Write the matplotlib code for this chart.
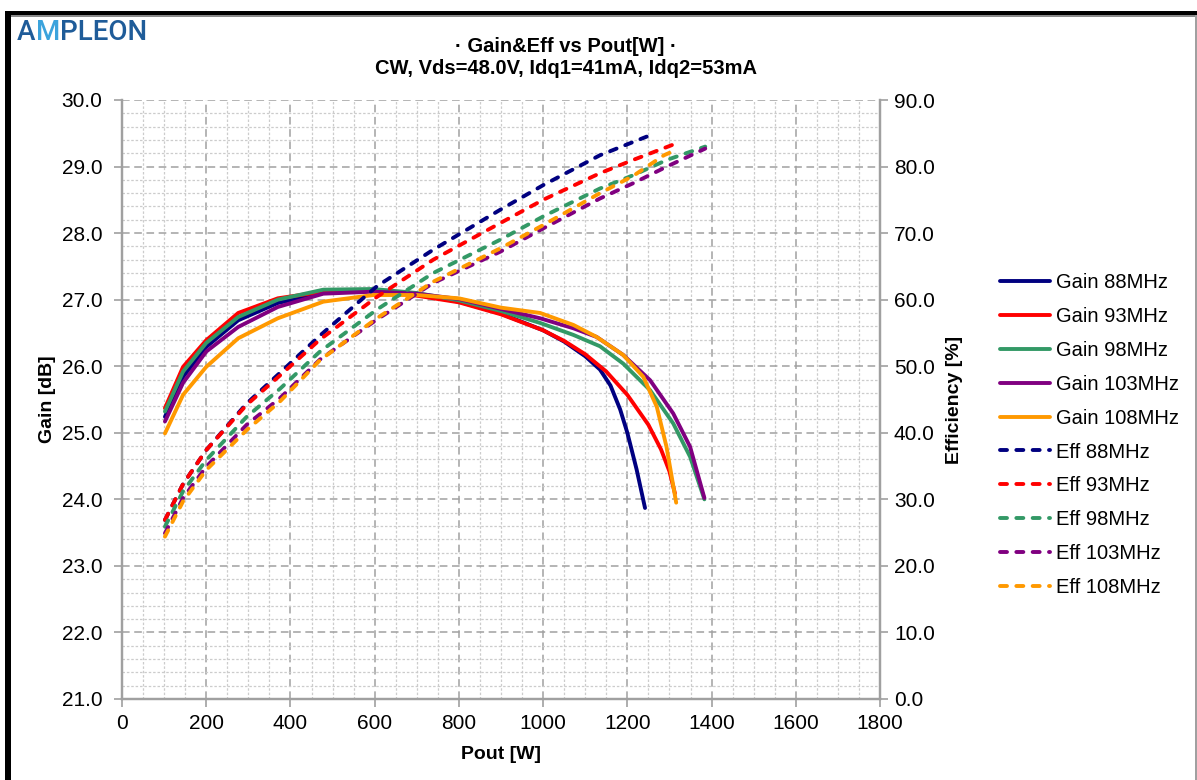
import matplotlib
matplotlib.use("Agg")
import matplotlib.pyplot as plt
from matplotlib.patches import Rectangle
from matplotlib.ticker import MultipleLocator, FormatStrFormatter

plt.rcParams['font.family'] = ['Liberation Sans', 'DejaVu Sans']

# ---------------- data ----------------
freqs = [88, 93, 98, 103, 108]
colors = ['#000080', '#FF0000', '#339966', '#800080', '#FF9900']

gain_pout_88 = [102, 145, 200, 276, 370, 478, 597, 700, 800, 900, 1000, 1050, 1100, 1135, 1160, 1183, 1200, 1222, 1242]
gain_88 = [25.24, 25.84, 26.29, 26.69, 26.95, 27.10, 27.14, 27.08, 26.97, 26.79, 26.54, 26.37, 26.15, 25.95, 25.71, 25.35, 25.00, 24.45, 23.87]

gain_pout_93 = [102, 145, 200, 276, 370, 478, 597, 700, 800, 900, 1000, 1050, 1100, 1150, 1200, 1250, 1280, 1300, 1313]
gain_93 = [25.37, 25.99, 26.39, 26.80, 27.02, 27.12, 27.14, 27.06, 26.96, 26.78, 26.54, 26.38, 26.18, 25.92, 25.57, 25.12, 24.75, 24.42, 24.09]

gain_pout_98 = [102, 145, 200, 276, 370, 478, 597, 700, 800, 900, 993, 1072, 1135, 1190, 1254, 1309, 1349, 1383]
gain_98 = [25.32, 25.92, 26.35, 26.74, 27.00, 27.15, 27.16, 27.10, 26.99, 26.83, 26.65, 26.47, 26.30, 26.04, 25.64, 25.14, 24.64, 24.00]

gain_pout_103 = [102, 145, 200, 276, 370, 478, 597, 700, 800, 900, 993, 1072, 1127, 1190, 1254, 1309, 1349, 1383]
gain_103 = [25.17, 25.75, 26.22, 26.59, 26.89, 27.09, 27.12, 27.09, 27.01, 26.86, 26.72, 26.57, 26.44, 26.17, 25.79, 25.29, 24.79, 24.02]

gain_pout_108 = [102, 145, 200, 276, 370, 478, 597, 700, 800, 900, 993, 1072, 1127, 1190, 1238, 1270, 1293, 1316]
gain_108 = [24.99, 25.57, 25.99, 26.42, 26.72, 26.97, 27.07, 27.07, 27.02, 26.88, 26.80, 26.62, 26.44, 26.17, 25.84, 25.39, 24.79, 23.95]

eff_pout_88 = [102, 145, 200, 296, 375, 470, 605, 739, 898, 1000, 1135, 1246]
eff_88 = [26.9, 32.3, 37.4, 44.4, 49.0, 54.6, 62.0, 67.5, 73.5, 77.2, 81.7, 84.5]

eff_pout_93 = [102, 145, 200, 296, 375, 470, 605, 739, 898, 1000, 1135, 1214, 1313]
eff_93 = [26.9, 32.3, 37.4, 44.2, 48.6, 54.0, 60.4, 66.0, 71.5, 75.0, 79.0, 81.0, 83.4]

eff_pout_98 = [102, 145, 200, 296, 375, 470, 605, 739, 898, 1000, 1135, 1214, 1294, 1385]
eff_98 = [25.9, 31.2, 35.9, 42.4, 46.6, 52.2, 58.5, 64.0, 69.0, 72.5, 76.7, 78.7, 81.0, 83.0]

eff_pout_103 = [102, 145, 200, 296, 375, 470, 605, 739, 898, 1000, 1135, 1214, 1294, 1385]
eff_103 = [24.9, 30.2, 34.9, 41.2, 45.2, 51.0, 57.0, 62.5, 67.2, 70.7, 75.2, 77.5, 80.0, 82.7]

eff_pout_108 = [102, 145, 200, 296, 375, 470, 605, 739, 898, 1000, 1135, 1214, 1287, 1309]
eff_108 = [24.4, 29.7, 34.4, 40.4, 44.7, 50.9, 57.2, 62.7, 67.7, 71.2, 76.0, 78.6, 81.7, 82.3]

gain_pouts = [gain_pout_88, gain_pout_93, gain_pout_98, gain_pout_103, gain_pout_108]
gains = [gain_88, gain_93, gain_98, gain_103, gain_108]
eff_pouts = [eff_pout_88, eff_pout_93, eff_pout_98, eff_pout_103, eff_pout_108]
effs = [eff_88, eff_93, eff_98, eff_103, eff_108]

title_lines = ["\u00b7 Gain&Eff vs Pout[W] \u00b7", "CW, Vds=48.0V, Idq1=41mA, Idq2=53mA"]

# ---------------- figure ----------------
W, H = 1197, 780
fig = plt.figure(figsize=(W / 100, H / 100), dpi=100)
fig.patch.set_facecolor('white')

def fx(px):
    return px / W

def fy(py):
    return 1 - py / H

ax = fig.add_axes([fx(122), fy(699), fx(880) - fx(122), fy(100) - fy(699)])
ax2 = ax.twinx()

ax.set_xlim(0, 1800)
ax.set_ylim(21, 30)
ax2.set_ylim(0, 90)

ax.xaxis.set_major_locator(MultipleLocator(200))
ax.xaxis.set_minor_locator(MultipleLocator(50))
ax.yaxis.set_major_locator(MultipleLocator(1))
ax.yaxis.set_minor_locator(MultipleLocator(0.2))
ax.yaxis.set_major_formatter(FormatStrFormatter('%.1f'))
ax2.yaxis.set_major_locator(MultipleLocator(10))
ax2.yaxis.set_major_formatter(FormatStrFormatter('%.1f'))

ax.grid(which='major', color='#a0a0a0', linestyle=(0, (5, 3)), linewidth=1.1)
ax.grid(which='minor', color='#cccccc', linestyle=(0, (2, 1.5)), linewidth=0.9)
ax.set_axisbelow(True)

spine_col = '#a0a0a0'
for a in (ax, ax2):
    a.spines['top'].set_visible(False)
    for s in ('left', 'right', 'bottom'):
        a.spines[s].set_color(spine_col)
        a.spines[s].set_linewidth(1.6)

tick_fs = 15
ax.tick_params(axis='x', which='major', direction='out', length=6, width=1.2,
               color=spine_col, labelsize=tick_fs, labelcolor='black', pad=5)
ax.tick_params(axis='y', which='major', direction='out', length=6, width=1.2,
               color=spine_col, labelsize=tick_fs, labelcolor='black', pad=8)
ax.tick_params(axis='both', which='minor', length=0)
ax2.tick_params(axis='y', which='major', direction='out', length=6, width=1.2,
                color=spine_col, labelsize=tick_fs, labelcolor='black', pad=4)
ax2.tick_params(axis='y', which='minor', length=0)

lw = 2.8
handles = []
for i, f in enumerate(freqs):
    ln, = ax.plot(gain_pouts[i], gains[i], color=colors[i], linewidth=lw,
                  solid_capstyle='round', solid_joinstyle='round')
    handles.append((ln, f"Gain {f}MHz"))
for i, f in enumerate(freqs):
    ln, = ax2.plot(eff_pouts[i], effs[i], color=colors[i], linewidth=lw,
                   linestyle=(0, (1.8, 2.4)), dash_capstyle='round', dash_joinstyle='round')
    handles.append((ln, f"Eff {f}MHz"))

ax.set_xlabel("Pout [W]", fontsize=14, fontweight='bold', labelpad=9)
ax.set_ylabel("Gain [dB]", fontsize=14, fontweight='bold', labelpad=4)
ax2.set_ylabel("Efficiency [%]", fontsize=14, fontweight='bold', labelpad=8)

fig.text(fx(566), fy(46), title_lines[0], ha='center', va='center', fontsize=14.5, fontweight='bold')
fig.text(fx(566), fy(68), title_lines[1], ha='center', va='center', fontsize=14.5, fontweight='bold')

leg = fig.legend([h for h, _ in handles], [l for _, l in handles],
                 loc='upper left', bbox_to_anchor=(fx(1000), fy(273)),
                 frameon=False, fontsize=14.5, handlelength=2.5, handletextpad=0.3,
                 labelspacing=0.74, borderpad=0, borderaxespad=0)

# logo
logo_kw = dict(fontsize=20, fontfamily=['Roboto', 'Liberation Sans'], fontweight='medium')
t1 = fig.text(fx(17), fy(32), "A", color='#1f5c99', va='center', ha='left', **logo_kw)
t2 = ax.annotate("M", xy=(1, 0), xycoords=t1, xytext=(0, 0), textcoords='offset points',
                 color='#3ba3dc', va='bottom', ha='left', annotation_clip=False, **logo_kw)
t3 = ax.annotate("PLEON", xy=(1, 0), xycoords=t2, xytext=(0, 0), textcoords='offset points',
                 color='#1f5c99', va='bottom', ha='left', annotation_clip=False, **logo_kw)

# page frame
fig.add_artist(Rectangle((fx(5), fy(780)), fx(11) - fx(5), fy(11) - fy(780), transform=fig.transFigure,
                         facecolor='black', edgecolor='none'))
fig.add_artist(Rectangle((fx(5), fy(15)), 1 - fx(5), fy(11) - fy(15), transform=fig.transFigure,
                         facecolor='black', edgecolor='none'))
fig.add_artist(Rectangle((fx(11), fy(16.5)), 1 - fx(11), fy(15) - fy(16.5), transform=fig.transFigure,
                         facecolor='#8a8a8a', edgecolor='none'))
fig.add_artist(Rectangle((fx(1195), fy(780)), fx(1197) - fx(1195), fy(15) - fy(780), transform=fig.transFigure,
                         facecolor='#a0a0a0', edgecolor='none'))

fig.savefig("out.png", dpi=100)
